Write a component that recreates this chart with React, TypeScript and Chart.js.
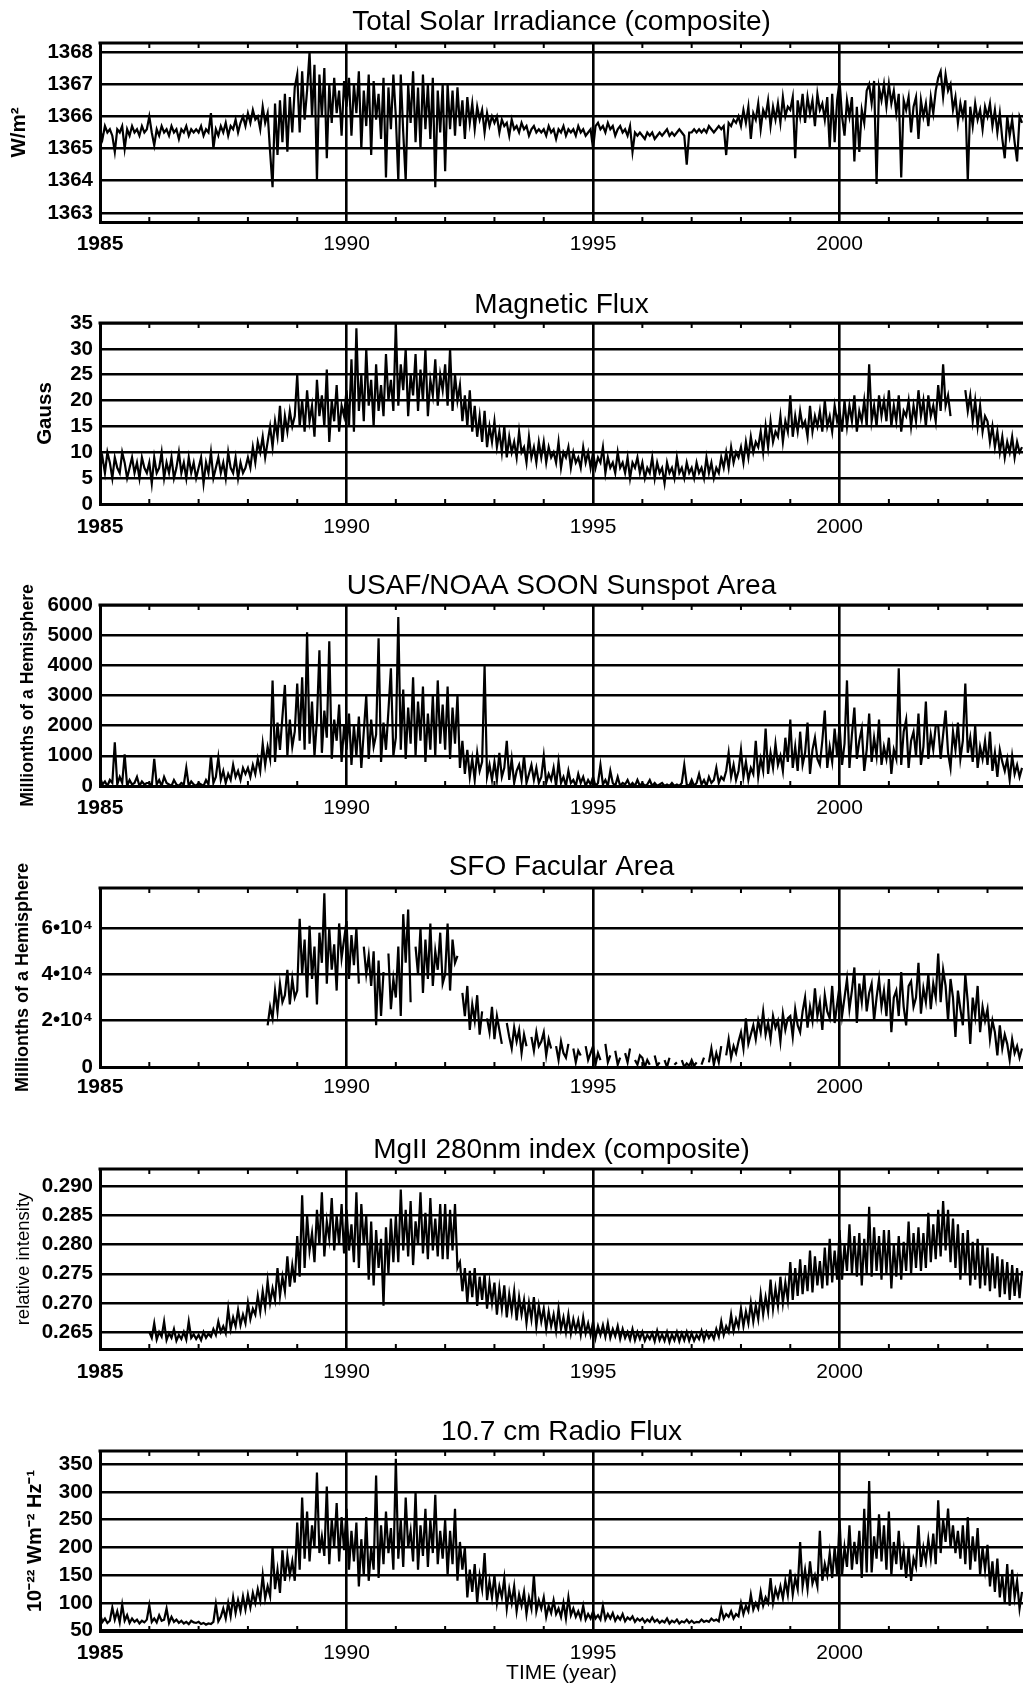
import React, { useEffect, useRef } from 'react';
import { Chart, registerables } from 'chart.js';

Chart.register(...registerables);

const FONT = "'Liberation Sans', Arial, Helvetica, sans-serif";
const CANVAS_W = 1023;

// ---- time axis: one sample every 0.05 yr from each series' start year ----
const DT = 0.05;
const X_MIN = 1985;
const X_MAX = 2003.72;
const YEAR_TICKS = [1985, 1986, 1987, 1988, 1989, 1990, 1991, 1992, 1993, 1994, 1995, 1996, 1997, 1998, 1999, 2000, 2001, 2002, 2003];

// ---- series (one row per year, 20 samples per year) ----
const TSI_START = 1985.0;
const TSI = [
  1365.6, 1365.3, 1365.7, 1365.5, 1365.6, 1365.4, 1364.9, 1365.6, 1365.5, 1365.7, 1365.0, 1365.6, 1365.4, 1365.7, 1365.5, 1365.6, 1365.4, 1365.7, 1365.5, 1365.6,
  1366.0, 1365.5, 1365.1, 1365.6, 1365.4, 1365.7, 1365.5, 1365.6, 1365.4, 1365.7, 1365.5, 1365.6, 1365.3, 1365.6, 1365.5, 1365.7, 1365.4, 1365.6, 1365.5, 1365.6,
  1365.5, 1365.7, 1365.4, 1365.6, 1365.5, 1366.1, 1365.0, 1365.6, 1365.4, 1365.7, 1365.5, 1365.8, 1365.4, 1365.7, 1365.6, 1365.9, 1365.5, 1365.8, 1366.0, 1365.7,
  1366.1, 1365.8, 1366.2, 1365.9, 1366.0, 1365.6, 1366.3, 1365.8, 1366.1, 1364.9, 1363.8, 1366.4, 1364.8, 1366.5, 1365.2, 1366.7, 1364.9, 1366.6, 1365.5, 1366.9,
  1367.3, 1365.5, 1367.4, 1365.9, 1366.8, 1368.0, 1366.0, 1367.6, 1364.0, 1367.3, 1366.0, 1367.5, 1364.7, 1367.0, 1365.8, 1367.2, 1366.1, 1366.8, 1365.4, 1367.1,
  1366.3, 1367.2, 1365.4, 1367.0, 1366.1, 1367.4, 1365.0, 1366.8, 1365.7, 1367.3, 1364.8, 1367.1, 1365.9, 1366.7, 1365.3, 1367.2, 1364.1, 1366.9, 1365.6, 1367.3,
  1366.0, 1364.0, 1367.3, 1365.5, 1364.0, 1367.0, 1365.8, 1367.4, 1365.2, 1366.9, 1365.0, 1367.3, 1365.6, 1367.0, 1365.3, 1367.2, 1363.8, 1366.8, 1365.5, 1367.0,
  1364.3, 1367.0, 1365.6, 1366.8, 1365.4, 1366.9, 1365.7, 1366.5, 1365.3, 1366.6, 1365.8, 1366.4, 1365.6, 1366.3, 1365.9, 1366.2, 1365.5, 1366.1, 1365.7, 1366.0,
  1365.8, 1366.0, 1365.5, 1365.9, 1365.7, 1365.8, 1365.4, 1365.9, 1365.6, 1365.7, 1365.5, 1365.8, 1365.6, 1365.7, 1365.4, 1365.6, 1365.7, 1365.5, 1365.6, 1365.5,
  1365.6, 1365.4, 1365.7, 1365.5, 1365.6, 1365.3, 1365.6, 1365.5, 1365.7, 1365.4, 1365.6, 1365.5, 1365.6, 1365.4, 1365.7, 1365.5, 1365.6, 1365.4, 1365.5, 1365.6,
  1365.0, 1365.7, 1365.8, 1365.6, 1365.7, 1365.5, 1365.8, 1365.6, 1365.7, 1365.4, 1365.6, 1365.7, 1365.5, 1365.6, 1365.4, 1365.7, 1364.9, 1365.5, 1365.4, 1365.5,
  1365.4, 1365.3, 1365.5, 1365.4, 1365.5, 1365.3, 1365.4, 1365.5, 1365.4, 1365.5, 1365.6, 1365.4, 1365.5, 1365.4, 1365.5, 1365.6, 1365.5, 1365.4, 1364.5, 1365.5,
  1365.5, 1365.6, 1365.5, 1365.6, 1365.5, 1365.6, 1365.5, 1365.7, 1365.6, 1365.5, 1365.6, 1365.7, 1365.6, 1365.7, 1364.8, 1365.8, 1365.7, 1365.9, 1365.8, 1366.0,
  1365.7, 1366.2, 1365.8, 1366.3, 1365.3, 1366.1, 1365.9, 1366.4, 1365.6, 1366.2, 1366.0, 1366.5, 1365.7, 1366.3, 1365.9, 1366.4, 1365.8, 1366.6, 1366.0, 1366.3,
  1366.2, 1366.6, 1364.7, 1366.5, 1366.0, 1366.7, 1365.8, 1366.6, 1366.1, 1366.5, 1365.7, 1366.7, 1366.2, 1366.4, 1365.9, 1366.6, 1365.0, 1366.7, 1365.2, 1366.5,
  1367.1, 1366.0, 1365.4, 1366.5, 1366.0, 1366.6, 1364.6, 1366.3, 1364.9, 1366.2, 1365.8, 1366.8, 1367.0, 1366.4, 1367.1, 1363.9, 1366.9, 1366.5, 1367.0, 1366.3,
  1367.0, 1366.4, 1366.8, 1366.1, 1366.7, 1364.1, 1366.5, 1366.2, 1366.6, 1365.5, 1366.3, 1366.6, 1365.3, 1366.5, 1366.0, 1366.4, 1365.7, 1366.6, 1366.1, 1366.8,
  1367.2, 1367.4, 1366.6, 1367.3, 1366.8, 1367.0, 1366.2, 1366.6, 1365.8, 1366.4, 1366.0, 1366.5, 1364.0, 1366.3, 1365.7, 1366.4, 1365.9, 1366.2, 1365.6, 1366.3,
  1366.0, 1366.4, 1365.7, 1366.2, 1365.5, 1366.1, 1365.3, 1364.7, 1366.0, 1365.4, 1365.9, 1365.2, 1364.6, 1366.0, 1365.8,
];

const MAG_START = 1985.0;
const MAG_FLUX = [
  7, 9, 6, 10, 8, 5, 9, 7, 6, 10, 8, 5, 7, 9, 6, 8, 5, 9, 7, 6,
  8, 4, 9, 6, 7, 10, 5, 8, 6, 9, 5, 7, 10, 6, 8, 5, 9, 6, 8, 5,
  7, 9, 4, 8, 6, 10, 5, 7, 9, 6, 8, 5, 10, 7, 6, 9, 5, 8, 6, 7,
  9, 7, 11, 8, 12, 10, 13, 9, 12, 15, 11, 16, 13, 19, 12, 17, 14, 18, 15, 17,
  25, 15, 20, 14, 22, 16, 19, 13, 24, 17, 21, 15, 26, 12, 20, 16, 23, 14, 19, 17,
  22, 15, 28, 14, 34, 18, 25, 16, 30, 19, 24, 15, 27, 18, 23, 17, 29, 20, 24, 18,
  35, 19, 27, 22, 30, 17, 25, 21, 29, 18, 26, 20, 30, 17, 24, 21, 28, 19, 25, 22,
  27, 19, 30, 18, 25, 20, 23, 16, 21, 15, 22, 14, 19, 13, 17, 12, 18, 11, 15, 12,
  16, 11, 14, 10, 15, 9, 13, 10, 12, 9, 14, 10, 11, 8, 13, 9, 11, 8, 12, 9,
  12, 8, 11, 9, 10, 8, 12, 7, 10, 9, 11, 7, 10, 8, 9, 7, 11, 8, 10, 7,
  10, 7, 9, 8, 11, 6, 9, 7, 8, 6, 10, 7, 8, 6, 9, 5, 8, 7, 9, 6,
  8, 5, 7, 6, 9, 5, 8, 6, 7, 4, 8, 6, 7, 5, 9, 6, 7, 5, 8, 6,
  7, 5, 8, 6, 7, 5, 9, 6, 8, 5, 7, 6, 9, 7, 10, 7, 11, 8, 10, 9,
  11, 8, 12, 9, 13, 10, 12, 11, 14, 10, 15, 11, 16, 12, 14, 13, 17, 12, 16, 14,
  21, 13, 17, 14, 18, 15, 16, 13, 19, 14, 17, 15, 18, 14, 20, 15, 17, 14, 19, 16,
  18, 14, 20, 15, 19, 16, 21, 14, 18, 16, 20, 15, 27, 16, 19, 15, 21, 17, 20, 16,
  22, 15, 19, 16, 21, 14, 18, 17, 20, 15, 19, 16, 22, 17, 20, 15, 21, 17, 19, 16,
  23, 18, 27, 19, 21, 17, null, null, null, null, null, 22, 18, 21, 16, 20, 15, 19, 14, 17,
  16, 12, 15, 11, 14, 10, 13, 9, 12, 10, 13, 9, 12, 10, 11,
];

const SUNSPOT_START = 1985.0;
const SUNSPOT_AREA = [
  300, 50, 150, 0, 200, 100, 1450, 50, 300, 100, 1050, 0, 200, 50, 100, 300, 0, 150, 50, 100,
  100, 0, 900, 50, 200, 0, 300, 100, 50, 0, 200, 50, 0, 100, 50, 600, 0, 150, 50, 0,
  100, 50, 0, 200, 50, 1000, 100, 300, 950, 200, 500, 100, 400, 200, 700, 300, 500, 200, 600, 400,
  600, 300, 700, 400, 900, 500, 1400, 700, 1300, 900, 3500, 800, 2100, 1200, 2300, 3350, 1000, 2200, 1300, 1800,
  3400, 1500, 3600, 1200, 5100, 1400, 2800, 1000, 2200, 4500, 1100, 2500, 1600, 4800, 900, 2200, 1500, 2700, 800, 2000,
  1200, 2400, 700, 2000, 1000, 2300, 600, 1800, 3000, 900, 2200, 1300, 1700, 4900, 800, 2100, 1200, 2500, 3900, 1000,
  1600, 5600, 1200, 3200, 900, 2600, 1400, 3600, 1000, 2800, 1500, 3300, 800, 2400, 1200, 3000, 1000, 3500, 1400, 2700,
  1200, 3300, 900, 2600, 1400, 3000, 600, 1500, 400, 1200, 300, 900, 200, 1100, 500, 800, 4000, 300, 700, 200,
  800, 200, 1100, 300, 600, 1500, 200, 900, 100, 500, 700, 200, 1000, 100, 400, 700, 200, 600, 100, 300,
  1000, 100, 400, 200, 600, 0, 800, 100, 300, 0, 500, 100, 200, 0, 400, 100, 300, 0, 200, 50,
  300, 0, 100, 700, 50, 200, 0, 500, 100, 0, 300, 0, 100, 50, 200, 0, 100, 0, 200, 0,
  100, 0, 50, 200, 0, 100, 0, 50, 100, 0, 50, 0, 100, 0, 50, 0, 100, 700, 50, 0,
  200, 0, 100, 400, 50, 200, 0, 300, 100, 200, 600, 100, 300, 200, 500, 1100, 300, 700, 200, 500,
  1200, 300, 800, 200, 600, 400, 1500, 300, 900, 500, 1900, 400, 1100, 600, 1400, 700, 1000, 500, 1600, 800,
  2200, 600, 1300, 500, 1800, 700, 1100, 2100, 400, 1200, 1600, 900, 700, 1500, 2500, 600, 1300, 800, 1900, 1000,
  2000, 700, 1400, 3500, 600, 1700, 2600, 900, 1500, 1900, 500, 1200, 2400, 800, 1600, 1000, 2200, 700, 1300, 900,
  1600, 400, 1200, 900, 3900, 700, 1800, 2200, 600, 1500, 1800, 1000, 2400, 700, 1300, 2800, 900, 1700, 1200, 2000,
  2000, 900, 1700, 2500, 1100, 600, 1800, 1200, 2100, 900, 1500, 3400, 1100, 1600, 800, 2000, 600, 1300, 900, 1500,
  700, 1800, 500, 1100, 300, 1200, 800, 500, 900, 200, 1000, 400, 700, 300, 600,
];

const FACULAR_START = 1988.4;
const FACULAR_AREA = [
  18000, 26000, 21000, 33000, 24000, 36000, 28000, 31000, 42000, 27000, 38000, 30000,
  33000, 64000, 40000, 55000, 30000, 61000, 38000, 52000, 27000, 58000, 45000, 75000, 36000, 60000, 42000, 53000, 33000, 62000, 47000, 55000,
  63000, 38000, 57000, 44000, 60000, 36000, null, 52000, 40000, 48000, 35000, 50000, 18000, 46000, 22000, 41000, null, 49000, 25000, 38000,
  30000, 52000, 22000, 66000, 45000, 68000, 28000, null, 52000, 40000, 60000, 32000, 55000, 38000, 62000, 35000, 50000, 42000, 58000, 36000,
  40000, 62000, 33000, 55000, 45000, 48000, null, 32000, 22000, 35000, 16000, 27000, 20000, 31000, 14000, 24000, null, 21000, 15000, 26000,
  12000, 22000, 16000, 10000, null, 19000, 13000, 8000, 17000, 11000, 16000, 6000, 14000, 9000, null, 13000, 7000, 15000, 9000, 11000,
  15000, 5000, 12000, 8000, null, 9000, 3000, 11000, 6000, 4000, 10000, null, 8000, 2000, 7000, 5000, null, 9000, 3000, 6000,
  9000, 1000, 6000, 3000, null, 10000, 2000, 5000, null, 7000, 1000, 4000, null, 6000, 2000, 8000, null, 3000, 1000, 5000,
  4000, 0, 3000, 1000, null, 5000, 500, 2000, null, 3000, 0, 4000, null, 1000, 2000, null, 3000, 0, 1500, 500,
  3000, 500, 2000, null, 1000, 4000, null, 2000, 8000, 1000, 6000, 2000, 9000, null, 5000, 12000, 4000, 9000, 6000, 11000,
  15000, 8000, 21000, 10000, 14000, 18000, 12000, 20000, 15000, 24000, 14000, 19000, 12000, 22000, 17000, 20000, 11000, 23000, 16000, 21000,
  22000, 13000, 25000, 18000, 15000, 24000, 30000, 17000, 26000, 20000, 34000, 22000, 28000, 16000, 31000, 24000, 21000, 35000, 19000, 27000,
  35000, 22000, 30000, 38000, 25000, 33000, 43000, 19000, 36000, 28000, 40000, 24000, 32000, 36000, 20000, 30000, 38000, 26000, 33000, 22000,
  38000, 15000, 30000, 33000, 22000, 41000, 26000, 18000, 35000, 37000, 26000, 30000, 45000, 23000, 34000, 28000, 40000, 25000, 36000, 30000,
  49000, 28000, 42000, 35000, 20000, 38000, 30000, 13000, 33000, 25000, 18000, 40000, 28000, 10000, 30000, 22000, 35000, 15000, 26000, 20000,
  25000, 12000, 20000, 15000, 5000, 18000, 8000, 14000, 10000, 3000, 12000, 6000, 9000, 4000, 8000,
];

const MGII_START = 1986.0;
const MGII_INDEX = [
  0.2650, 0.2640, 0.2665, 0.2637, 0.2650, 0.2642, 0.2668, 0.2636, 0.2648, 0.2640, 0.2655, 0.2635, 0.2645, 0.2638, 0.2650, 0.2637, 0.2668, 0.2640, 0.2646, 0.2638,
  0.2645, 0.2636, 0.2650, 0.2640, 0.2647, 0.2642, 0.2655, 0.2645, 0.2668, 0.2650, 0.2660, 0.2648, 0.2690, 0.2655, 0.2675, 0.2660, 0.2688, 0.2662, 0.2680, 0.2665,
  0.2700, 0.2672, 0.2690, 0.2680, 0.2712, 0.2685, 0.2720, 0.2692, 0.2738, 0.2700, 0.2725, 0.2705, 0.2760, 0.2712, 0.2745, 0.2720, 0.2780, 0.2728, 0.2765, 0.2735,
  0.2815, 0.2745, 0.2885, 0.2760, 0.2850, 0.2790, 0.2820, 0.2770, 0.2860, 0.2800, 0.2890, 0.2780, 0.2840, 0.2810, 0.2880, 0.2790, 0.2850, 0.2800, 0.2870, 0.2785,
  0.2860, 0.2790, 0.2835, 0.2770, 0.2890, 0.2760, 0.2870, 0.2800, 0.2850, 0.2740, 0.2840, 0.2730, 0.2825, 0.2760, 0.2810, 0.2695, 0.2830, 0.2750, 0.2845, 0.2770,
  0.2850, 0.2770, 0.2895, 0.2790, 0.2860, 0.2780, 0.2875, 0.2765, 0.2840, 0.2800, 0.2890, 0.2785, 0.2855, 0.2775, 0.2880, 0.2790, 0.2845, 0.2780, 0.2870, 0.2775,
  0.2870, 0.2775, 0.2860, 0.2790, 0.2870, 0.2760, 0.2770, 0.2720, 0.2760, 0.2700, 0.2755, 0.2710, 0.2760, 0.2695, 0.2745, 0.2705, 0.2750, 0.2690, 0.2735, 0.2700,
  0.2735, 0.2680, 0.2725, 0.2690, 0.2730, 0.2675, 0.2715, 0.2685, 0.2720, 0.2670, 0.2710, 0.2680, 0.2705, 0.2665, 0.2700, 0.2672, 0.2710, 0.2660, 0.2695, 0.2668,
  0.2690, 0.2655, 0.2685, 0.2660, 0.2680, 0.2652, 0.2690, 0.2655, 0.2675, 0.2650, 0.2680, 0.2648, 0.2672, 0.2652, 0.2670, 0.2645, 0.2675, 0.2648, 0.2665, 0.2645,
  0.2668, 0.2640, 0.2660, 0.2645, 0.2662, 0.2642, 0.2665, 0.2640, 0.2655, 0.2643, 0.2660, 0.2638, 0.2655, 0.2640, 0.2650, 0.2637, 0.2655, 0.2636, 0.2650, 0.2638,
  0.2650, 0.2635, 0.2645, 0.2638, 0.2648, 0.2634, 0.2652, 0.2636, 0.2646, 0.2635, 0.2650, 0.2633, 0.2646, 0.2636, 0.2650, 0.2634, 0.2648, 0.2636, 0.2650, 0.2635,
  0.2648, 0.2635, 0.2645, 0.2638, 0.2652, 0.2636, 0.2650, 0.2640, 0.2648, 0.2638, 0.2655, 0.2642, 0.2668, 0.2645, 0.2660, 0.2650, 0.2680, 0.2652, 0.2672, 0.2658,
  0.2690, 0.2660, 0.2685, 0.2665, 0.2700, 0.2668, 0.2695, 0.2672, 0.2715, 0.2680, 0.2710, 0.2685, 0.2740, 0.2690, 0.2725, 0.2695, 0.2745, 0.2700, 0.2735, 0.2705,
  0.2770, 0.2705, 0.2760, 0.2712, 0.2775, 0.2715, 0.2765, 0.2720, 0.2790, 0.2718, 0.2780, 0.2730, 0.2772, 0.2725, 0.2795, 0.2730, 0.2810, 0.2735, 0.2790, 0.2740,
  0.2825, 0.2740, 0.2800, 0.2755, 0.2835, 0.2750, 0.2815, 0.2745, 0.2820, 0.2730, 0.2810, 0.2750, 0.2865, 0.2745, 0.2830, 0.2755, 0.2815, 0.2740, 0.2825, 0.2750,
  0.2825, 0.2725, 0.2800, 0.2745, 0.2815, 0.2740, 0.2805, 0.2755, 0.2840, 0.2750, 0.2820, 0.2760, 0.2830, 0.2755, 0.2820, 0.2760, 0.2855, 0.2770, 0.2835, 0.2775,
  0.2860, 0.2780, 0.2875, 0.2790, 0.2860, 0.2770, 0.2845, 0.2760, 0.2835, 0.2740, 0.2820, 0.2750, 0.2825, 0.2730, 0.2805, 0.2740, 0.2810, 0.2725, 0.2800, 0.2730,
  0.2795, 0.2720, 0.2785, 0.2725, 0.2780, 0.2710, 0.2775, 0.2715, 0.2770, 0.2705, 0.2765, 0.2712, 0.2760, 0.2708, 0.2755,
];

const RADIO_START = 1985.0;
const RADIO_FLUX = [
  80, 66, 72, 64, 68, 92, 70, 85, 65, 97, 68, 78, 64, 72, 66, 70, 63, 68, 65, 70,
  96, 66, 72, 65, 78, 68, 70, 90, 64, 75, 66, 70, 64, 68, 63, 66, 62, 68, 65, 64,
  66, 62, 64, 61, 63, 62, 66, 98, 67, 75, 90, 72, 100, 76, 110, 82, 105, 85, 112, 88,
  115, 92, 118, 100, 125, 105, 150, 108, 130, 112, 200, 125, 160, 118, 195, 140, 185, 150, 175, 140,
  245, 160, 290, 180, 265, 175, 240, 200, 335, 190, 220, 185, 310, 170, 250, 200, 280, 175, 255, 195,
  270, 160, 230, 175, 245, 130, 215, 150, 255, 140, 200, 160, 330, 145, 240, 170, 265, 190, 235, 160,
  360, 180, 250, 165, 290, 200, 230, 175, 300, 160, 240, 185, 270, 165, 250, 190, 295, 170, 230, 180,
  250, 150, 230, 170, 270, 140, 210, 160, 200, 110, 160, 120, 170, 100, 150, 125, 190, 105, 140, 110,
  150, 100, 130, 110, 145, 90, 125, 100, 130, 85, 115, 95, 120, 80, 110, 90, 150, 85, 105, 90,
  110, 75, 95, 82, 105, 80, 90, 75, 100, 72, 110, 78, 90, 75, 85, 72, 95, 70, 80, 72,
  85, 72, 78, 70, 95, 70, 80, 72, 82, 68, 76, 70, 80, 67, 74, 70, 76, 66, 72, 68,
  72, 65, 70, 66, 74, 66, 70, 64, 68, 65, 72, 63, 68, 65, 70, 63, 67, 65, 70, 64,
  68, 64, 66, 65, 70, 66, 68, 66, 72, 68, 70, 67, 90, 72, 80, 75, 85, 72, 80, 76,
  100, 80, 95, 85, 115, 88, 100, 90, 120, 95, 110, 100, 145, 100, 125, 110, 130, 108, 140, 115,
  160, 115, 145, 125, 210, 130, 160, 125, 175, 135, 150, 130, 230, 140, 170, 150, 190, 145, 200, 150,
  250, 150, 200, 165, 240, 160, 210, 170, 230, 145, 270, 155, 320, 155, 220, 180, 260, 175, 240, 160,
  265, 150, 210, 170, 230, 160, 195, 145, 200, 140, 180, 165, 240, 165, 200, 175, 215, 180, 225, 170,
  285, 190, 250, 210, 270, 200, 240, 190, 230, 180, 240, 170, 255, 160, 220, 175, 235, 150, 200, 160,
  205, 130, 175, 120, 180, 110, 150, 100, 170, 95, 160, 110, 140, 90, 120,
];

// ---- y tick values and labels ----
const TSI_TICKS = [1363, 1364, 1365, 1366, 1367, 1368];
const MAG_TICKS = [0, 5, 10, 15, 20, 25, 30, 35];
const SUNSPOT_TICKS = [0, 1000, 2000, 3000, 4000, 5000, 6000];
const FACULAR_TICKS = [0, 20000, 40000, 60000];
const FACULAR_LABELS = ['0', '2•10⁴', '4•10⁴', '6•10⁴'];
const MGII_TICKS = [0.265, 0.27, 0.275, 0.28, 0.285, 0.29];
const RADIO_TICKS = [50, 100, 150, 200, 250, 300, 350];

type Panel = {
  title: string;
  yTitle: string;
  yTitleSize: number;
  yTitleWeight: string;
  yTitlePad: number;
  values: (number | null)[];
  start: number;
  yMin: number;
  yMax: number;
  yTicks: number[];
  fmt: (v: number) => string;
  titleY: number;
  plotTop: number;
  plotBottom: number;
  labelY: number;
  xTitle?: string;
};

const PANELS: Panel[] = [
  {
    title: 'Total Solar Irradiance (composite)', yTitle: 'W/m²', yTitleSize: 20.5, yTitleWeight: 'bold', yTitlePad: 7.5,
    values: TSI, start: TSI_START, yMin: 1362.72, yMax: 1368.28, yTicks: TSI_TICKS, fmt: (v) => String(v),
    titleY: 22, plotTop: 43, plotBottom: 222, labelY: 244,
  },
  {
    title: 'Magnetic Flux', yTitle: 'Gauss', yTitleSize: 20.5, yTitleWeight: 'bold', yTitlePad: 33,
    values: MAG_FLUX, start: MAG_START, yMin: 0, yMax: 35, yTicks: MAG_TICKS, fmt: (v) => String(v),
    titleY: 305, plotTop: 323, plotBottom: 504, labelY: 527,
  },
  {
    title: 'USAF/NOAA SOON Sunspot Area', yTitle: 'Millionths of a Hemisphere', yTitleSize: 17.5, yTitleWeight: 'bold', yTitlePad: 17.5,
    values: SUNSPOT_AREA, start: SUNSPOT_START, yMin: 0, yMax: 6000, yTicks: SUNSPOT_TICKS, fmt: (v) => String(v),
    titleY: 586, plotTop: 605, plotBottom: 786, labelY: 808,
  },
  {
    title: 'SFO Facular Area', yTitle: 'Millionths of a Hemisphere', yTitleSize: 18, yTitleWeight: 'bold', yTitlePad: 12,
    values: FACULAR_AREA, start: FACULAR_START, yMin: 0, yMax: 77300, yTicks: FACULAR_TICKS,
    fmt: (v) => FACULAR_LABELS[FACULAR_TICKS.indexOf(v)] ?? String(v),
    titleY: 867, plotTop: 888, plotBottom: 1067, labelY: 1087,
  },
  {
    title: 'MgII 280nm index (composite)', yTitle: 'relative intensity', yTitleSize: 18.5, yTitleWeight: 'normal', yTitlePad: 13,
    values: MGII_INDEX, start: MGII_START, yMin: 0.26208, yMax: 0.29301, yTicks: MGII_TICKS, fmt: (v) => v.toFixed(3),
    titleY: 1150, plotTop: 1169, plotBottom: 1349, labelY: 1372,
  },
  {
    title: '10.7 cm Radio Flux', yTitle: '10⁻²² Wm⁻² Hz⁻¹', yTitleSize: 20, yTitleWeight: 'bold', yTitlePad: 23,
    values: RADIO_FLUX, start: RADIO_START, yMin: 49.5, yMax: 374, yTicks: RADIO_TICKS, fmt: (v) => String(v),
    titleY: 1432, plotTop: 1451, plotBottom: 1631, labelY: 1653, xTitle: 'TIME (year)',
  },
];

const TITLE_SIZE = 28;
const TITLE_LH = TITLE_SIZE * 1.2;
const TITLE_PAD_TOP = 2;
const XLAB_SIZE = 21;

const framePlugin = {
  id: 'frameTicks',
  afterDatasetsDraw(chart: any) {
    const { ctx, chartArea: a } = chart;
    const x = chart.scales.x;
    ctx.save();
    ctx.strokeStyle = '#000';
    ctx.lineWidth = 3;
    ctx.beginPath();
    ctx.moveTo(a.left - 1.5, a.top);
    ctx.lineTo(a.right, a.top);
    ctx.stroke();
    ctx.lineWidth = 2;
    ctx.beginPath();
    for (const yr of YEAR_TICKS) {
      if (yr % 5 === 0) continue;
      const px = x.getPixelForValue(yr);
      ctx.moveTo(px, a.top);
      ctx.lineTo(px, a.top + 5);
      ctx.moveTo(px, a.bottom);
      ctx.lineTo(px, a.bottom - 5);
    }
    ctx.stroke();
    ctx.restore();
  },
};

function PanelChart({ p }: { p: Panel }) {
  const ref = useRef<HTMLCanvasElement | null>(null);
  const ctop = Math.round(p.titleY - TITLE_PAD_TOP - TITLE_LH / 2);
  const titlePadBottom = p.plotTop - ctop - TITLE_LH - TITLE_PAD_TOP;
  const xH = p.xTitle ? 56 : 40;
  const height = Math.round(p.plotBottom + xH - ctop);
  const tickPad = p.labelY - p.plotBottom - (XLAB_SIZE * 1.2) / 2;

  useEffect(() => {
    if (!ref.current) return;
    const data = p.values.map((v, i) => ({ x: p.start + i * DT, y: v }));
    const chart = new Chart(ref.current, {
      type: 'line',
      data: {
        datasets: [
          {
            data: data as any,
            borderColor: '#000',
            borderWidth: 2.2,
            pointRadius: 0,
            tension: 0,
            spanGaps: false,
            fill: false,
          },
        ],
      },
      plugins: [framePlugin],
      options: {
        animation: false,
        responsive: false,
        devicePixelRatio: 1,
        events: [],
        layout: { padding: 0 },
        plugins: {
          legend: { display: false },
          tooltip: { enabled: false },
          title: {
            display: true,
            text: p.title,
            fullSize: false,
            color: '#000',
            font: { family: FONT, size: TITLE_SIZE, weight: 'normal' },
            padding: { top: TITLE_PAD_TOP, bottom: titlePadBottom },
          },
        },
        scales: {
          x: {
            type: 'linear',
            min: X_MIN,
            max: X_MAX,
            afterBuildTicks: (s: any) => {
              s.ticks = YEAR_TICKS.map((v) => ({ value: v }));
            },
            afterFit: (s: any) => {
              s.height = xH;
            },
            ticks: {
              autoSkip: false,
              maxRotation: 0,
              padding: tickPad,
              color: '#000',
              font: (c: any) => ({
                family: FONT,
                size: XLAB_SIZE,
                weight: c.tick && c.tick.value === 1985 ? 'bold' : 'normal',
              }),
              callback: (v: any) => (Number(v) % 5 === 0 ? String(v) : ''),
            },
            grid: {
              drawTicks: false,
              lineWidth: 2.6,
              color: (c: any) =>
                c.tick && c.tick.value % 5 === 0 && c.tick.value > 1985 ? '#000' : 'rgba(0,0,0,0)',
            },
            border: { display: true, color: '#000', width: 3 },
            title: p.xTitle
              ? {
                  display: true,
                  text: p.xTitle,
                  color: '#000',
                  font: { family: FONT, size: 21, weight: 'normal' },
                  padding: { top: 0, bottom: 1.4 },
                }
              : { display: false },
          },
          y: {
            type: 'linear',
            min: p.yMin,
            max: p.yMax,
            afterBuildTicks: (s: any) => {
              s.ticks = p.yTicks.map((v) => ({ value: v }));
            },
            afterFit: (s: any) => {
              s.width = 100;
            },
            ticks: {
              autoSkip: false,
              padding: 7,
              color: '#000',
              font: { family: FONT, size: 20.5, weight: 'bold' },
              callback: (v: any) => p.fmt(Number(v)),
            },
            grid: { drawTicks: false, lineWidth: 2.6, color: '#000' },
            border: { display: true, color: '#000', width: 3 },
            title: {
              display: true,
              text: p.yTitle,
              color: '#000',
              font: { family: FONT, size: p.yTitleSize, weight: p.yTitleWeight as any },
              padding: { top: p.yTitlePad, bottom: 0 },
            },
          },
        },
      } as any,
    });
    return () => chart.destroy();
  }, [p]);

  return (
    <canvas
      ref={ref}
      width={CANVAS_W}
      height={height}
      style={{ position: 'absolute', left: 0, top: ctop, width: CANVAS_W, height, display: 'block' }}
    />
  );
}

export default function App() {
  return (
    <div
      style={{
        position: 'absolute',
        left: 0,
        top: 0,
        width: CANVAS_W,
        height: 1690,
        overflow: 'hidden',
        background: '#fff',
      }}
    >
      {PANELS.map((p) => (
        <PanelChart key={p.title} p={p} />
      ))}
    </div>
  );
}
